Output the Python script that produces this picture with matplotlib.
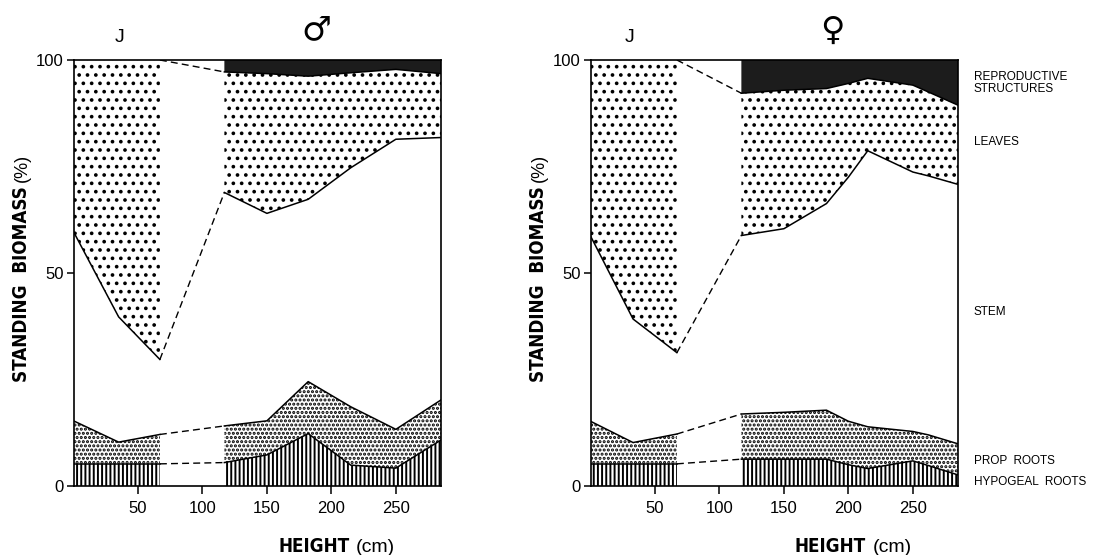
import matplotlib
matplotlib.use('Agg')
import matplotlib.pyplot as plt
import numpy as np

plt.rcParams['font.family'] = ['Liberation Sans', 'DejaVu Sans']

# sample heights (cm): juvenile plants (J) and adult plants
male_juv_x = [0, 35, 67]
male_adult_x = [117, 150, 182, 215, 250, 285]
female_juv_x = [0, 33, 67]
female_adult_x = [117, 150, 183, 200, 215, 250, 262, 285]

# share of standing biomass (%) per compartment
male_juv_hypogeal = [5.2, 5.2, 5.2]
male_juv_prop = [10.1, 5.1, 6.9]
male_juv_stem = [44.4, 29.4, 17.6]
male_juv_leaves = [40.3, 60.3, 70.3]
male_juv_repro = [0.0, 0.0, 0.0]

male_adult_hypogeal = [5.5, 7.3, 12.3, 4.9, 4.2, 10.8]
male_adult_prop = [8.6, 8.0, 12.2, 13.7, 9.1, 9.4]
male_adult_stem = [54.8, 48.7, 42.8, 56.1, 68.1, 61.6]
male_adult_leaves = [28.3, 32.8, 28.9, 22.3, 16.4, 15.0]
male_adult_repro = [2.8, 3.2, 3.8, 3.0, 2.2, 3.2]

female_juv_hypogeal = [5.2, 5.2, 5.2]
female_juv_prop = [10.0, 5.0, 7.0]
female_juv_stem = [43.5, 29.0, 19.1]
female_juv_leaves = [41.3, 60.8, 68.7]
female_juv_repro = [0.0, 0.0, 0.0]

female_adult_hypogeal = [6.3, 6.3, 6.3, 5.0, 4.1, 5.9, 4.8, 2.6]
female_adult_prop = [10.6, 11.0, 11.5, 10.2, 9.8, 6.9, 7.2, 7.3]
female_adult_stem = [41.9, 43.1, 48.5, 57.3, 64.8, 60.9, 60.8, 60.9]
female_adult_leaves = [33.4, 32.5, 27.0, 22.0, 17.0, 20.4, 19.7, 18.6]
female_adult_repro = [7.8, 7.1, 6.7, 5.5, 4.3, 5.9, 7.5, 10.6]

compartments = ['HYPOGEAL  ROOTS', 'PROP  ROOTS', 'STEM', 'LEAVES',
                'REPRODUCTIVE\nSTRUCTURES']
# (hatch, face, hatch linewidth) for each compartment, bottom to top
styles = [('||||', 'white', 1.4), ('....', 'white', 1.5), ('', 'white', 1.0),
          ('..', 'white', 1.45), ('', '#1c1c1c', 1.0)]
label_y = [482, 461, 312, 142, 83]

W, H = 1095, 555
BOLD = dict(fontweight='bold', family='DejaVu Sans', fontstretch='condensed')


def fx(x):
    return x / W


def fy(y):
    return 1 - y / H


def draw_segment(ax, x, shares):
    levels = np.vstack([np.zeros(len(x)), np.cumsum(shares, axis=0)])
    for i, (hatch, face, hlw) in enumerate(styles):
        with plt.rc_context({'hatch.linewidth': hlw}):
            pc = ax.fill_between(x, levels[i], levels[i + 1], facecolor=face,
                                 hatch=hatch, edgecolor='k', linewidth=0)
        if hasattr(pc, 'set_hatch_linewidth'):
            pc.set_hatch_linewidth(hlw)
    for lev in levels[1:-1]:
        if np.all(lev > 99.9):
            continue
        ax.plot(x, lev, color='k', lw=1.1)
    return levels


def draw_panel(ax, juv_x, juv, adult_x, adult):
    lj = draw_segment(ax, juv_x, juv)
    la = draw_segment(ax, adult_x, adult)
    # dashed links across the unsampled heights
    for k in range(1, len(styles)):
        ax.plot([juv_x[-1], adult_x[0]], [lj[k][-1], la[k][0]],
                color='k', lw=1.0, ls=(0, (5, 3)))
    ax.set_xlim(0, 285)
    ax.set_ylim(0, 100)
    ax.set_xticks([50, 100, 150, 200, 250])
    ax.set_yticks([0, 50, 100])
    ax.tick_params(axis='x', direction='out', length=6, width=1.1, pad=5,
                   labelsize=12)
    ax.tick_params(axis='y', direction='out', length=5, width=1.1, pad=2,
                   labelsize=12)
    for s in ax.spines.values():
        s.set_linewidth(1.2)


fig = plt.figure(figsize=(W / 100, H / 100), dpi=100)
ax_m = fig.add_axes([fx(73.5), fy(486), 367.5 / W, 426 / H])
ax_f = fig.add_axes([fx(590.5), fy(486), 367.5 / W, 426 / H])

draw_panel(ax_m, male_juv_x,
           [male_juv_hypogeal, male_juv_prop, male_juv_stem,
            male_juv_leaves, male_juv_repro],
           male_adult_x,
           [male_adult_hypogeal, male_adult_prop, male_adult_stem,
            male_adult_leaves, male_adult_repro])
draw_panel(ax_f, female_juv_x,
           [female_juv_hypogeal, female_juv_prop, female_juv_stem,
            female_juv_leaves, female_juv_repro],
           female_adult_x,
           [female_adult_hypogeal, female_adult_prop, female_adult_stem,
            female_adult_leaves, female_adult_repro])

for x0, jx, sym, sx in [(0, 120, '\u2642', 316), (517, 630, '\u2640', 832)]:
    t = fig.text(fx(x0 + 22), fy(284), 'STANDING  BIOMASS', rotation=90,
                 ha='center', va='center', fontsize=13.5, **BOLD)
    ax_m.annotate('(%)', xy=(0.5, 1), xycoords=t, xytext=(0, 3),
                  textcoords='offset points', rotation=90, ha='center',
                  va='bottom', fontsize=13, annotation_clip=False)
    h = fig.text(fx(x0 + 278), fy(547), 'HEIGHT', ha='left', va='center',
                 fontsize=13.5, **BOLD)
    ax_m.annotate('(cm)', xy=(1, 0.5), xycoords=h, xytext=(5, 0),
                  textcoords='offset points', ha='left', va='center',
                  fontsize=14, annotation_clip=False)
    fig.text(fx(jx), fy(38), 'J', ha='center', va='center', fontsize=14)
    fig.text(fx(sx), fy(30), sym, ha='center', va='center', fontsize=24,
             family='DejaVu Sans')

for name, y in zip(compartments, label_y):
    fig.text(fx(974), fy(y), name, ha='left', va='center', fontsize=8.5,
             linespacing=1.0)

fig.savefig('out.png', dpi=100)
